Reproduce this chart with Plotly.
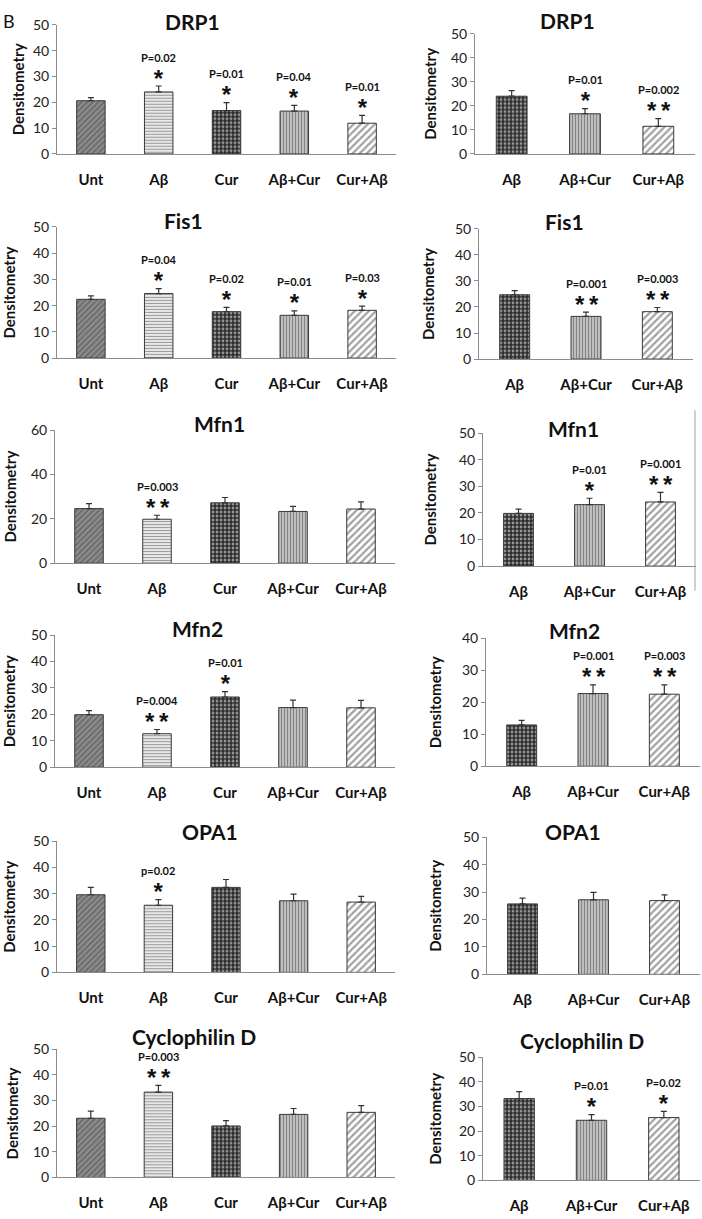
import plotly.graph_objects as go

W, H = 702, 1219

# ---------------- data ----------------
cats_left = ["Unt", "Aβ", "Cur", "Aβ+Cur", "Cur+Aβ"]
cats_right = ["Aβ", "Aβ+Cur", "Cur+Aβ"]

drp1_left = [20.6, 24.0, 16.8, 16.6, 11.9]
drp1_left_err = [1.2, 2.3, 3.1, 2.2, 3.0]
drp1_left_p = ["", "P=0.02", "P=0.01", "P=0.04", "P=0.01"]
drp1_left_star = ["", "*", "*", "*", "*"]
drp1_right = [24.0, 16.7, 11.5]
drp1_right_err = [2.3, 2.1, 3.2]
drp1_right_p = ["", "P=0.01", "P=0.002"]
drp1_right_star = ["", "*", "**"]

fis1_left = [22.4, 24.6, 17.7, 16.3, 18.2]
fis1_left_err = [1.3, 1.9, 1.6, 1.7, 1.6]
fis1_left_p = ["", "P=0.04", "P=0.02", "P=0.01", "P=0.03"]
fis1_left_star = ["", "*", "*", "*", "*"]
fis1_right = [24.7, 16.4, 18.2]
fis1_right_err = [1.6, 1.6, 1.6]
fis1_right_p = ["", "P=0.001", "P=0.003"]
fis1_right_star = ["", "**", "**"]

mfn1_left = [24.6, 19.8, 27.2, 23.3, 24.4]
mfn1_left_err = [2.2, 1.8, 2.4, 2.3, 3.2]
mfn1_left_p = ["", "P=0.003", "", "", ""]
mfn1_left_star = ["", "**", "", "", ""]
mfn1_right = [19.8, 23.1, 24.1]
mfn1_right_err = [1.6, 2.4, 3.6]
mfn1_right_p = ["", "P=0.01", "P=0.001"]
mfn1_right_star = ["", "*", "**"]

mfn2_left = [19.9, 12.7, 26.6, 22.6, 22.5]
mfn2_left_err = [1.5, 1.6, 2.0, 2.8, 2.8]
mfn2_left_p = ["", "P=0.004", "P=0.01", "", ""]
mfn2_left_star = ["", "**", "*", "", ""]
mfn2_right = [12.9, 22.7, 22.5]
mfn2_right_err = [1.4, 2.7, 2.9]
mfn2_right_p = ["", "P=0.001", "P=0.003"]
mfn2_right_star = ["", "**", "**"]

opa1_left = [29.6, 25.6, 32.4, 27.3, 26.8]
opa1_left_err = [2.8, 2.1, 3.0, 2.5, 2.2]
opa1_left_p = ["", "p=0.02", "", "", ""]
opa1_left_star = ["", "*", "", "", ""]
opa1_right = [25.7, 27.2, 26.9]
opa1_right_err = [2.1, 2.7, 2.1]
opa1_right_p = ["", "", ""]
opa1_right_star = ["", "", ""]

cyc_left = [23.1, 33.3, 20.1, 24.6, 25.4]
cyc_left_err = [2.8, 2.6, 2.1, 2.3, 2.6]
cyc_left_p = ["", "P=0.003", "", "", ""]
cyc_left_star = ["", "**", "", "", ""]
cyc_right = [33.2, 24.4, 25.5]
cyc_right_err = [2.8, 2.3, 2.5]
cyc_right_p = ["", "P=0.01", "P=0.02"]
cyc_right_star = ["", "*", "*"]

titles = ["DRP1", "DRP1", "Fis1", "Fis1", "Mfn1", "Mfn1",
          "Mfn2", "Mfn2", "OPA1", "OPA1", "Cyclophilin D", "Cyclophilin D"]
y_max = [50, 50, 50, 50, 60, 50, 50, 40, 50, 50, 50, 50]
y_dtick = [10, 10, 10, 10, 20, 10, 10, 10, 10, 10, 10, 10]

# ---------------- styles / layout geometry (pixels) ----------------
FONT = "Lato"
STAR_FONT = "Liberation Sans"
pat = {
    "Unt":    dict(shape="/", bg="#8e8e8e", fg="#2e2e2e", size=4, sol=0.45),
    "AbL":    dict(shape="-", bg="#f0f0f0", fg="#999999", size=3, sol=0.4),
    "Cur":    dict(shape=".", bg="#2c2c2c", fg="#c8c8c8", size=4, sol=0.4),
    "AbCur":  dict(shape="|", bg="#c4c4c4", fg="#777777", size=3, sol=0.4),
    "CurAb":  dict(shape="/", bg="#ffffff", fg="#111111", size=5, sol=0.45),
}
left_styles = ["Unt", "AbL", "Cur", "AbCur", "CurAb"]
right_styles = ["Cur", "AbCur", "CurAb"]

# (x0, x1, ytop, ybottom) in pixels
boxes = [
    (57, 396, 16, 147), (475, 695, 25, 147),
    (57, 396, 221, 354), (479, 693, 223, 355),
    (55, 395, 427, 562), (483, 696, 430, 565),
    (55, 395, 635, 769), (486, 700, 638, 768),
    (57, 395, 844, 977), (487, 700, 840, 979),
    (57, 395, 1055, 1185), (483, 700, 1063, 1188),
]
title_pos = [(192, 13), (567, 12), (183, 214), (564, 215), (219, 420), (573, 425),
             (197, 628), (574, 630), (210, 834), (573, 834), (194, 1042), (582, 1046)]
ylab_x = [18, 430, 9, 428, 10, 430, 9, 435, 9, 435, 12, 435]

panels = [
    (cats_left, drp1_left, drp1_left_err, drp1_left_p, drp1_left_star),
    (cats_right, drp1_right, drp1_right_err, drp1_right_p, drp1_right_star),
    (cats_left, fis1_left, fis1_left_err, fis1_left_p, fis1_left_star),
    (cats_right, fis1_right, fis1_right_err, fis1_right_p, fis1_right_star),
    (cats_left, mfn1_left, mfn1_left_err, mfn1_left_p, mfn1_left_star),
    (cats_right, mfn1_right, mfn1_right_err, mfn1_right_p, mfn1_right_star),
    (cats_left, mfn2_left, mfn2_left_err, mfn2_left_p, mfn2_left_star),
    (cats_right, mfn2_right, mfn2_right_err, mfn2_right_p, mfn2_right_star),
    (cats_left, opa1_left, opa1_left_err, opa1_left_p, opa1_left_star),
    (cats_right, opa1_right, opa1_right_err, opa1_right_p, opa1_right_star),
    (cats_left, cyc_left, cyc_left_err, cyc_left_p, cyc_left_star),
    (cats_right, cyc_right, cyc_right_err, cyc_right_p, cyc_right_star),
]

fig = go.Figure()
annotations = []
layout = {}

for i, (cats, vals, errs, ptxt, stars) in enumerate(panels):
    n = i + 1
    sfx = "" if n == 1 else str(n)
    styles = left_styles if len(cats) == 5 else right_styles
    x0, x1, yt, yb = boxes[i]
    fig.add_trace(go.Bar(
        x=cats, y=vals, width=0.42,
        xaxis="x" + sfx, yaxis="y" + sfx,
        marker=dict(
            color=[pat[s]["bg"] for s in styles],
            line=dict(color="#3a3a3a", width=1),
            pattern=dict(
                shape=[pat[s]["shape"] for s in styles],
                bgcolor=[pat[s]["bg"] for s in styles],
                fgcolor=[pat[s]["fg"] for s in styles],
                size=[pat[s]["size"] for s in styles],
                solidity=[pat[s]["sol"] for s in styles],
            ),
        ),
        error_y=dict(type="data", symmetric=False, array=errs,
                     arrayminus=[0] * len(errs), color="#333333",
                     thickness=1.2, width=3),
        showlegend=False, hoverinfo="skip",
    ))
    layout["xaxis" + sfx] = dict(
        domain=[x0 / W, x1 / W], anchor="y" + sfx,
        showline=True, linecolor="#8c8c8c", linewidth=1,
        ticks="outside", ticklen=12, tickcolor="rgba(0,0,0,0)",
        tickfont=dict(family=FONT, size=15, color="#111", weight="bold"),
        showgrid=False, zeroline=False, fixedrange=True,
    )
    layout["yaxis" + sfx] = dict(
        domain=[1 - yb / H, 1 - yt / H], anchor="x" + sfx,
        range=[0, y_max[i]], dtick=y_dtick[i],
        showline=True, linecolor="#8c8c8c", linewidth=1,
        ticks="outside", ticklen=4, tickcolor="#8c8c8c",
        tickfont=dict(family=FONT, size=14, color="#222"),
        showgrid=False, zeroline=False, fixedrange=True,
    )
    # subplot title
    tx, ty = title_pos[i]
    annotations.append(dict(
        text=titles[i], x=tx / W, y=1 - ty / H, xref="paper", yref="paper",
        xanchor="center", yanchor="middle", showarrow=False,
        font=dict(family=FONT, size=21, color="#111", weight="bold")))
    # y-axis title
    annotations.append(dict(
        text="Densitometry", x=ylab_x[i] / W, y=1 - (yt + yb) / 2 / H,
        xref="paper", yref="paper", textangle=-90,
        xanchor="center", yanchor="middle", showarrow=False,
        font=dict(family=FONT, size=15, color="#111", weight="bold")))
    # significance labels: p-value line above the star(s), in one text block
    for c, v, e, p, s in zip(cats, vals, errs, ptxt, stars):
        if not (p or s):
            continue
        star_txt = "\u2009".join(s)
        txt = ('<span style="font-size:11px">' + p + '</span><br>'
               '<span style="font-family:Liberation Sans;font-size:24px">'
               + star_txt + '</span>')
        annotations.append(dict(
            text=txt, x=c, y=v + e, xref="x" + sfx, yref="y" + sfx,
            xanchor="center", yanchor="bottom", yshift=-7.5, showarrow=False,
            font=dict(family=FONT, size=19, color="#111", weight="bold")))

annotations.append(dict(
    text="B", x=9 / W, y=1 - 12 / H, xref="paper", yref="paper",
    xanchor="center", yanchor="middle", showarrow=False,
    font=dict(family=FONT, size=18, color="#111")))

fig.update_layout(
    width=W, height=H, margin=dict(l=0, r=0, t=0, b=0),
    paper_bgcolor="white", plot_bgcolor="white",
    annotations=annotations,
    shapes=[dict(type="line", xref="paper", yref="paper",
                 x0=695 / W, x1=695 / W, y0=1 - 590 / H, y1=1 - 407 / H,
                 line=dict(color="#a0a0a0", width=1))],
    **layout,
)

fig.write_html(
    "out.html",
    config={"displayModeBar": False},
    post_script="document.body.style.margin='0';document.body.style.padding='0';"
                "document.documentElement.style.overflow='hidden';",
)
